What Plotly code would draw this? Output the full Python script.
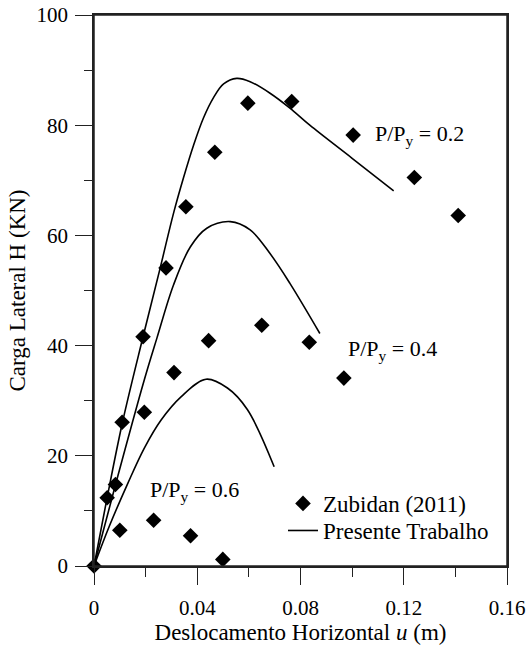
import plotly.graph_objects as go

# Zubidan (2011) experimental points
zub_x = [0, 0.0051, 0.0109, 0.019, 0.0279, 0.0356, 0.0468, 0.0596, 0.0766, 0.1004, 0.1241, 0.1411,
         0.0083, 0.0195, 0.031, 0.0444, 0.065, 0.0834, 0.0968,
         0.0100, 0.0231, 0.0374, 0.0499]
zub_y = [0, 12.4, 26.1, 41.6, 54.1, 65.2, 75.1, 84.0, 84.3, 78.2, 70.5, 63.6,
         14.8, 27.9, 35.1, 40.9, 43.7, 40.6, 34.1,
         6.5, 8.3, 5.5, 1.2]

# Presente Trabalho curves
c02_x = [0, 0.005, 0.011, 0.019, 0.0257, 0.0308, 0.0347, 0.0386, 0.0424, 0.0463, 0.0502,
         0.0553, 0.0605, 0.0682, 0.0759, 0.0836, 0.1000, 0.1161]
c02_y = [0, 12.2, 26.0, 41.6, 54.2, 64.0, 70.5, 76.4, 81.3, 85.0, 87.5,
         88.5, 87.9, 85.8, 83.1, 80.0, 74.0, 68.1]

c04_x = [0, 0.0083, 0.0195, 0.0244, 0.0308, 0.0373, 0.0437, 0.0528, 0.0605, 0.0682, 0.0759, 0.0875]
c04_y = [0, 14.7, 33.8, 41.4, 51.0, 57.9, 61.3, 62.5, 61.0, 56.7, 51.3, 42.2]

c06_x = [0, 0.006, 0.0131, 0.0195, 0.026, 0.0337, 0.0434, 0.0517, 0.0594, 0.0698]
c06_y = [0, 7.3, 15.0, 21.4, 26.5, 30.7, 33.9, 32.3, 28.4, 18.0]

labels = ["P/P<sub>y</sub> = 0.2", "P/P<sub>y</sub> = 0.4", "P/P<sub>y</sub> = 0.6"]
label_x = [0.126, 0.1156, 0.0388]
label_y = [78.2, 39.2, 13.6]

FONT = "'Liberation Serif', 'Times New Roman', 'DejaVu Serif', serif"

fig = go.Figure()
curves = [(c02_x, c02_y), (c04_x, c04_y), (c06_x, c06_y)]
for i, (cx, cy) in enumerate(curves):
    fig.add_trace(go.Scatter(x=cx, y=cy, mode="lines",
                             line=dict(color="black", width=1.6, shape="spline", smoothing=1),
                             name="Presente Trabalho", showlegend=(i == 0), legend="legend2"))
fig.add_trace(go.Scatter(x=zub_x, y=zub_y, mode="markers",
                         marker=dict(symbol="diamond", size=12, color="black"),
                         name="Zubidan (2011)", showlegend=True, legend="legend", cliponaxis=False))

for t, lx, ly in zip(labels, label_x, label_y):
    fig.add_annotation(x=lx, y=ly, text=t, showarrow=False, xanchor="center", yanchor="middle",
                       font=dict(family=FONT, size=22, color="black"))

# plot frame
fig.add_shape(type="rect", xref="paper", yref="paper", x0=0, x1=1, y0=0, y1=1,
              line=dict(color="#222", width=1.5), layer="above")

axis_common = dict(showgrid=False, zeroline=False, showline=True, linecolor="#222", linewidth=1.5,
                   mirror=True, ticks="outside", ticklen=17, tickwidth=1.2, tickcolor="#222",
                   automargin=False, ticklabeloverflow="allow",
                   tickfont=dict(family=FONT, size=21, color="black"))

fig.update_xaxes(range=[0, 0.16], dtick=0.04, tick0=0, ticklabelstandoff=5,
                 minor=dict(dtick=0.02, ticks="outside", ticklen=9, tickwidth=1.2, tickcolor="#222"),
                 title=dict(text="Deslocamento Horizontal <i>u</i> (m)", font=dict(family=FONT, size=23, color="black"), standoff=4),
                 **axis_common)
fig.update_yaxes(range=[0, 100], dtick=20, tick0=0, ticklabelstandoff=3,
                 minor=dict(dtick=10, ticks="outside", ticklen=8, tickwidth=1.2, tickcolor="#222"),
                 title=dict(text="Carga Lateral H (KN)", font=dict(family=FONT, size=23, color="black"), standoff=4),
                 **axis_common)

leg_common = dict(xanchor="left", yanchor="top", bgcolor="rgba(0,0,0,0)",
                  font=dict(family=FONT, size=23, color="black"), itemwidth=30)
fig.update_layout(width=527, height=650, plot_bgcolor="white", paper_bgcolor="white",
                  margin=dict(l=94, r=20, t=15, b=84), showlegend=True,
                  legend=dict(x=0.4576, y=0.1525, **leg_common),
                  legend2=dict(x=0.4576, y=0.1034, **leg_common),
                  font=dict(family=FONT))

fig.write_html("out.html", config={"displayModeBar": False},
               post_script="document.body.style.margin='0px'; document.documentElement.style.overflow='hidden';")
